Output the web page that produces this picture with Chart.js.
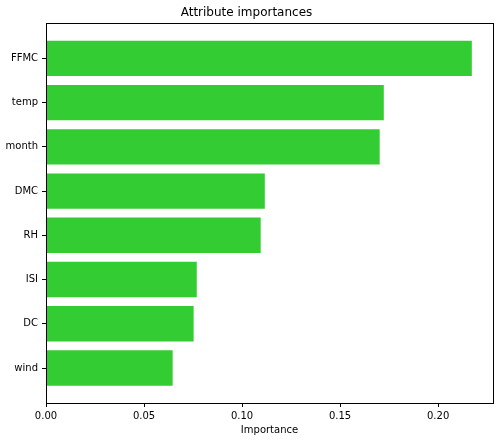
<!DOCTYPE html>
<html lang="en">
  <head>
    <meta charset="UTF-8" />
    <title>Attribute importances</title>
    <script src="https://cdn.jsdelivr.net/npm/chart.js"></script>
    <style>
      html, body {
        margin: 0;
        padding: 0;
        background: #ffffff;
      }
      #wrap {
        width: 503px;
        height: 441px;
      }
    </style>
  </head>
  <body>
    <div id="wrap"><canvas id="chart"></canvas></div>

    <script>
      const attributes = ['FFMC', 'temp', 'month', 'DMC', 'RH', 'ISI', 'DC', 'wind']
      const importances = [0.2172, 0.1723, 0.1702, 0.1116, 0.1095, 0.0769, 0.0753, 0.0646]
      const xTicks = [0, 0.05, 0.1, 0.15, 0.2]

      const font = "'DejaVu Sans', sans-serif"

      // black box round the plot area, like the matplotlib axes frame
      const frame = {
        id: 'frame',
        afterDraw(chart) {
          const { ctx, chartArea: a } = chart
          ctx.save()
          ctx.strokeStyle = '#000'
          ctx.lineWidth = 1
          ctx.strokeRect(Math.round(a.left) + 0.5, Math.round(a.top) + 0.5,
            Math.round(a.right - a.left), Math.round(a.bottom - a.top))
          ctx.restore()
        }
      }

      new Chart(document.getElementById('chart'), {
        type: 'bar',
        data: {
          datasets: [{
            data: attributes.map((name, i) => ({ x: importances[i], y: i })),
            backgroundColor: '#33cc33',
            borderWidth: 0,
            barPercentage: 0.8,
            categoryPercentage: 1.0
          }]
        },
        plugins: [frame],
        options: {
          indexAxis: 'y',
          responsive: true,
          maintainAspectRatio: false,
          animation: false,
          layout: { padding: { left: 0, right: 10, top: 0, bottom: 0 } },
          plugins: {
            legend: { display: false },
            tooltip: { enabled: false },
            title: {
              display: true,
              text: 'Attribute importances',
              color: '#000',
              font: { family: font, size: 12, weight: 'normal' },
              padding: { top: 6, bottom: 3 }
            }
          },
          scales: {
            x: {
              type: 'linear',
              offset: false,
              min: 0,
              max: 0.228,
              afterBuildTicks: scale => {
                scale.ticks = xTicks.map(v => ({ value: v }))
              },
              afterFit: scale => {
                scale.height = 38
              },
              ticks: {
                color: '#000',
                font: { family: font, size: 10 },
                padding: 3,
                maxRotation: 0,
                callback: v => v.toFixed(2)
              },
              grid: {
                offset: false,
                drawOnChartArea: false,
                drawTicks: true,
                tickLength: 4,
                color: '#000'
              },
              border: { display: false },
              title: {
                display: true,
                text: 'Importance',
                color: '#000',
                font: { family: font, size: 10 },
                padding: { top: 2, bottom: 5 }
              }
            },
            y: {
              type: 'linear',
              offset: false,
              reverse: true,
              min: -0.79,
              max: 7.79,
              afterBuildTicks: scale => {
                scale.ticks = attributes.map((name, i) => ({ value: i }))
              },
              afterFit: scale => {
                scale.width = 46
              },
              ticks: {
                color: '#000',
                font: { family: font, size: 10 },
                padding: 4,
                callback: v => attributes[v]
              },
              grid: {
                offset: false,
                drawOnChartArea: false,
                drawTicks: true,
                tickLength: 4,
                color: '#000'
              },
              border: { display: false }
            }
          }
        }
      })
    </script>
  </body>
</html>
